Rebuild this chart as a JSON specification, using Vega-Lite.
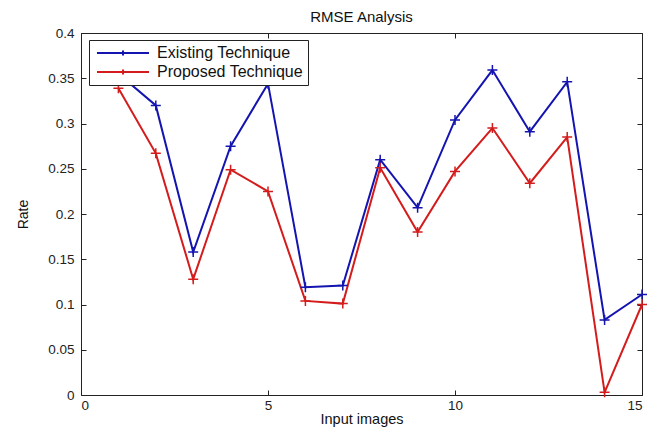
{
  "$schema": "https://vega.github.io/schema/vega-lite/v6.json",
  "width": 561,
  "height": 362,
  "padding": {"left": 81, "top": 33, "right": 20, "bottom": 37},
  "autosize": {"type": "none"},
  "background": "white",
  "title": {"text": "RMSE Analysis", "fontSize": 15, "fontWeight": "normal", "font": "Liberation Sans", "color": "#111", "offset": 1, "anchor": "middle", "frame": "group"},
  "config": {
    "view": {"stroke": "#222", "strokeWidth": 1},
    "axis": {"grid": false, "domain": false, "labelFont": "Liberation Sans", "titleFont": "Liberation Sans", "labelColor": "#222", "titleColor": "#111", "tickColor": "#222", "titleFontWeight": "normal", "labelFontSize": 13.5, "titleFontSize": 14, "tickSize": -5}
  },
  "data": {"values": [
    {"image": 1, "technique": "Existing Technique", "rate": 0.355},
    {"image": 2, "technique": "Existing Technique", "rate": 0.320},
    {"image": 3, "technique": "Existing Technique", "rate": 0.158},
    {"image": 4, "technique": "Existing Technique", "rate": 0.275},
    {"image": 5, "technique": "Existing Technique", "rate": 0.344},
    {"image": 6, "technique": "Existing Technique", "rate": 0.119},
    {"image": 7, "technique": "Existing Technique", "rate": 0.121},
    {"image": 8, "technique": "Existing Technique", "rate": 0.260},
    {"image": 9, "technique": "Existing Technique", "rate": 0.207},
    {"image": 10, "technique": "Existing Technique", "rate": 0.304},
    {"image": 11, "technique": "Existing Technique", "rate": 0.359},
    {"image": 12, "technique": "Existing Technique", "rate": 0.291},
    {"image": 13, "technique": "Existing Technique", "rate": 0.346},
    {"image": 14, "technique": "Existing Technique", "rate": 0.083},
    {"image": 15, "technique": "Existing Technique", "rate": 0.111},
    {"image": 1, "technique": "Proposed Technique", "rate": 0.339},
    {"image": 2, "technique": "Proposed Technique", "rate": 0.267},
    {"image": 3, "technique": "Proposed Technique", "rate": 0.128},
    {"image": 4, "technique": "Proposed Technique", "rate": 0.249},
    {"image": 5, "technique": "Proposed Technique", "rate": 0.225},
    {"image": 6, "technique": "Proposed Technique", "rate": 0.104},
    {"image": 7, "technique": "Proposed Technique", "rate": 0.101},
    {"image": 8, "technique": "Proposed Technique", "rate": 0.251},
    {"image": 9, "technique": "Proposed Technique", "rate": 0.180},
    {"image": 10, "technique": "Proposed Technique", "rate": 0.247},
    {"image": 11, "technique": "Proposed Technique", "rate": 0.295},
    {"image": 12, "technique": "Proposed Technique", "rate": 0.234},
    {"image": 13, "technique": "Proposed Technique", "rate": 0.285},
    {"image": 14, "technique": "Proposed Technique", "rate": 0.003},
    {"image": 15, "technique": "Proposed Technique", "rate": 0.100}
  ]},
  "layer": [
    {
      "mark": {"type": "line", "strokeWidth": 2},
      "encoding": {
        "x": {"field": "image", "type": "quantitative", "scale": {"domain": [0, 15], "nice": false}, "axis": {"orient": "bottom", "values": [0, 5, 10, 15], "title": "Input images", "labelPadding": 8, "titlePadding": 1, "titleFontSize": 14.5}},
        "y": {"field": "rate", "type": "quantitative", "scale": {"domain": [0, 0.4], "nice": false, "zero": false}, "axis": {"orient": "left", "values": [0, 0.05, 0.1, 0.15, 0.2, 0.25, 0.3, 0.35, 0.4], "format": ".2~f", "title": "Rate", "labelPadding": 12, "titlePadding": 17}},
        "color": {"field": "technique", "type": "nominal", "scale": {"domain": ["Existing Technique", "Proposed Technique"], "range": ["#1414b0", "#d41c1c"]},
          "legend": {"orient": "none", "legendX": 8, "legendY": 7, "title": null, "symbolType": "M-5.2,0H5.2M0,-0.5V0.5", "symbolSize": 100, "symbolStrokeWidth": 2, "symbolOffset": 21, "labelFontSize": 16, "labelFont": "Liberation Sans", "labelColor": "#111", "labelExpr": "datum.label + '\u00a0\u00a0\u00a0'", "strokeColor": "#222", "fillColor": "white", "padding": 5, "rowPadding": 3, "labelOffset": 26}}
      }
    },
    {
      "mark": {"type": "point", "shape": "M-1,0H1M0,-1V1", "size": 100, "filled": false, "strokeWidth": 1.5, "opacity": 1},
      "encoding": {
        "x": {"field": "image", "type": "quantitative", "axis": null},
        "y": {"field": "rate", "type": "quantitative", "axis": null},
        "color": {"field": "technique", "type": "nominal", "legend": null}
      }
    },
    {
      "mark": {"type": "point", "opacity": 0},
      "encoding": {
        "x": {"field": "image", "type": "quantitative", "axis": {"orient": "top", "values": [0, 5, 10, 15], "labels": false, "title": null}},
        "y": {"field": "rate", "type": "quantitative", "axis": {"orient": "right", "values": [0, 0.05, 0.1, 0.15, 0.2, 0.25, 0.3, 0.35, 0.4], "labels": false, "title": null}}
      }
    }
  ],
  "resolve": {"axis": {"x": "independent", "y": "independent"}}
}
